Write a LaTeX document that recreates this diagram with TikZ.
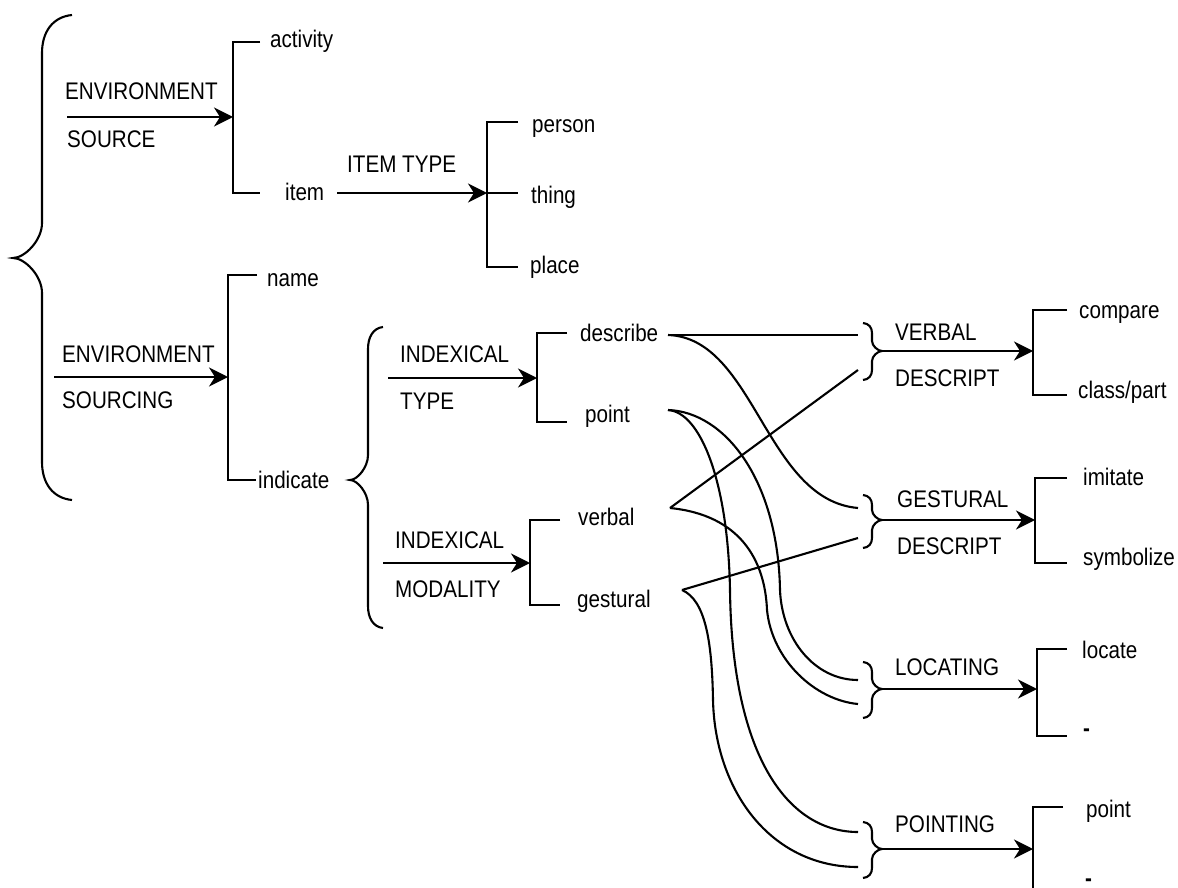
\documentclass[tikz,border=0pt]{standalone}
\usepackage{fontspec}
\setmainfont{Liberation Sans}[FakeStretch=0.86]
\usetikzlibrary{arrows.meta}

% Curly brace: #1 end x, #2 spine x, #3 tip x, #4 top y, #5 tip y, #6 bottom y,
% #7 length of the end curls, #8 length of the tip curls
\newcommand{\drawcurly}[8]{%
  \draw[ln] (#1,#4) .. controls ({#2+0.35*(#1-#2)},{#4+0.05*#7}) and (#2,{#4+0.45*#7}) .. (#2,{#4+#7})
    -- (#2,{#5-#8}) .. controls (#2,{#5-0.5*#8}) and ({#3+0.4*(#2-#3)},#5) .. (#3,#5)
    .. controls ({#3+0.4*(#2-#3)},#5) and (#2,{#5+0.5*#8}) .. (#2,{#5+#8})
    -- (#2,{#6-#7}) .. controls (#2,{#6-0.45*#7}) and ({#2+0.35*(#1-#2)},{#6-0.05*#7}) .. (#1,#6);}

\begin{document}
\begin{tikzpicture}[x=1pt,y=-1pt,
  ln/.style={line width=2.1pt},
  arr/.style={ln,-{Stealth[length=19pt,width=19pt,inset=6pt]}},
  lbl/.style={anchor=base west,inner sep=0pt,font=\fontsize{24}{28}\selectfont},
  dashlbl/.style={lbl,font=\fontsize{24}{28}\selectfont\bfseries}]
\useasboundingbox (0,0) rectangle (1178,888);
\clip (0,0) rectangle (1178,888);

% ---------- outer brace ----------
\drawcurly{72}{42}{13}{15}{258}{500}{38}{35}

% ---------- environment source ----------
\node[lbl] (env1) at (65,100) {ENVIRONMENT};
\node[lbl] (source) at (67,147) {SOURCE};
\coordinate (env1-in) at (67,117);
\coordinate (br1-mid) at (233,117);
\draw[ln] (260,42) -- (233,42) -- (233,193) -- (260,193);
\draw[arr] (env1-in) -- (br1-mid);
\node[lbl] (activity) at (270,48) {activity};
\node[lbl] (item) at (285,200) {item};

% ---------- item type ----------
\node[lbl] (itemtype) at (347,172) {ITEM TYPE};
\coordinate (item-out) at (337,193);
\coordinate (br2-mid) at (487,193);
\draw[ln] (518,122) -- (487,122) -- (487,267) -- (518,267);
\draw[ln] (br2-mid) -- (518,193);
\draw[arr] (item-out) -- (br2-mid);
\node[lbl] (person) at (532,132) {person};
\node[lbl] (thing) at (531,203) {thing};
\node[lbl] (place) at (530,273) {place};

% ---------- environment sourcing ----------
\node[lbl] (env2) at (62,362) {ENVIRONMENT};
\node[lbl] (sourcing) at (62,408) {SOURCING};
\coordinate (env2-in) at (54,377);
\coordinate (br3-mid) at (228,377);
\draw[ln] (257,275) -- (228,275) -- (228,480) -- (256,480);
\draw[arr] (env2-in) -- (br3-mid);
\node[lbl] (name) at (267,286) {name};
\node[lbl] (indicate) at (258,488) {indicate};

% ---------- indexical brace ----------
\drawcurly{383}{368}{350}{327}{480}{628}{22}{25}

% indexical type
\node[lbl] (idx1) at (400,362) {INDEXICAL};
\node[lbl] (type) at (400,409) {TYPE};
\coordinate (idx1-in) at (388,378);
\coordinate (br4-mid) at (537,378);
\draw[ln] (567,333) -- (537,333) -- (537,422) -- (567,422);
\draw[arr] (idx1-in) -- (br4-mid);
\node[lbl] (describe) at (580,341) {describe};
\node[lbl] (point) at (585,422) {point};

% indexical modality
\node[lbl] (idx2) at (395,548) {INDEXICAL};
\node[lbl] (modality) at (395,597) {MODALITY};
\coordinate (idx2-in) at (383,563);
\coordinate (br5-mid) at (530,563);
\draw[ln] (560,520) -- (530,520) -- (530,605) -- (560,605);
\draw[arr] (idx2-in) -- (br5-mid);
\node[lbl] (verbal) at (578,525) {verbal};
\node[lbl] (gestural) at (577,607) {gestural};

% ---------- verbal descript ----------
\drawcurly{863}{872}{882}{323}{351}{380}{10}{10}
\coordinate (vd-tip) at (882,351);
\coordinate (br6-mid) at (1033,351);
\node[lbl] (vd1) at (895,340) {VERBAL};
\node[lbl] (vd2) at (895,386) {DESCRIPT};
\draw[ln] (1067,310) -- (1033,310) -- (1033,395) -- (1067,395);
\draw[arr] (vd-tip) -- (br6-mid);
\node[lbl] (compare) at (1079,318) {compare};
\node[lbl] (classpart) at (1078,398) {class/part};

% ---------- gestural descript ----------
\drawcurly{863}{872}{882}{495}{520}{548}{10}{10}
\coordinate (gd-tip) at (882,520);
\coordinate (br7-mid) at (1035,520);
\node[lbl] (gd1) at (897,507) {GESTURAL};
\node[lbl] (gd2) at (897,554) {DESCRIPT};
\draw[ln] (1067,478) -- (1035,478) -- (1035,563) -- (1067,563);
\draw[arr] (gd-tip) -- (br7-mid);
\node[lbl] (imitate) at (1083,485) {imitate};
\node[lbl] (symbolize) at (1083,565) {symbolize};

% ---------- locating ----------
\drawcurly{863}{872}{882}{662}{689}{718}{10}{10}
\coordinate (lo-tip) at (882,689);
\coordinate (br8-mid) at (1037,689);
\node[lbl] (locating) at (895,675) {LOCATING};
\draw[ln] (1067,649) -- (1037,649) -- (1037,736) -- (1067,736);
\draw[arr] (lo-tip) -- (br8-mid);
\node[lbl] (locate) at (1082,658) {locate};
\node[dashlbl] (lo-dash) at (1083,736) {-};

% ---------- pointing ----------
\drawcurly{863}{872}{882}{822}{849}{878}{10}{10}
\coordinate (po-tip) at (882,849);
\coordinate (br9-mid) at (1033,849);
\node[lbl] (pointing) at (895,832) {POINTING};
\draw[ln] (1063,807) -- (1033,807) -- (1033,893) -- (1063,893);
\draw[arr] (po-tip) -- (br9-mid);
\node[lbl] (point2) at (1086,817) {point};
\node[dashlbl] (po-dash) at (1085,886) {-};

% ---------- cross links ----------
\coordinate (describe-out) at (668,335);
\coordinate (point-out) at (668,410);
\coordinate (verbal-out) at (670,508);
\coordinate (gestural-out) at (682,590);
\coordinate (vd-a) at (858,335);
\coordinate (vd-b) at (858,370);
\coordinate (gd-a) at (858,508);
\coordinate (gd-b) at (858,538);
\coordinate (lo-a) at (858,680);
\coordinate (lo-b) at (858,704);
\coordinate (po-a) at (858,832);
\coordinate (po-b) at (858,867);

\draw[ln] (describe-out) -- (vd-a);
\draw[ln] (verbal-out) -- (vd-b);
\draw[ln] (gestural-out) -- (gd-b);
\draw[ln] (describe-out) .. controls (755,338) and (765,500) .. (gd-a);
\draw[ln] (point-out) .. controls (725,412) and (778,480) .. (780,590)
  .. controls (782,640) and (815,680) .. (lo-a);
\draw[ln] (point-out) .. controls (700,412) and (728,480) .. (730,590)
  .. controls (732,760) and (790,832) .. (po-a);
\draw[ln] (verbal-out) .. controls (740,515) and (765,560) .. (767,610)
  .. controls (772,660) and (815,700) .. (lo-b);
\draw[ln] (gestural-out) .. controls (705,600) and (712,640) .. (713,700)
  .. controls (715,790) and (770,867) .. (po-b);
\end{tikzpicture}
\end{document}
